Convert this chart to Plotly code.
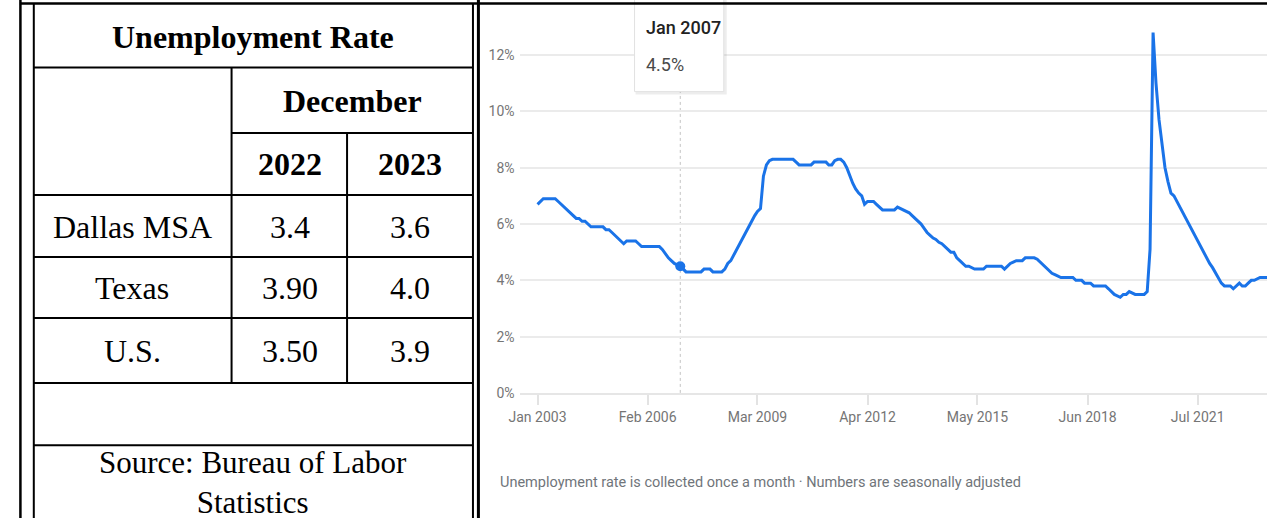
import pandas as pd
import plotly.graph_objects as go

W, H = 1267, 526

# ---------------- data ----------------
table_title = "Unemployment Rate"
table_month = "December"
table_years = ["2022", "2023"]
table_regions = ["Dallas MSA", "Texas", "U.S."]
table_2022 = ["3.4", "3.90", "3.50"]
table_2023 = ["3.6", "4.0", "3.9"]
table_source = "Source: Bureau of Labor<br>Statistics"

# monthly unemployment rate (%), Jan 2003 onwards, one row per year
rate = [
    6.7, 6.8, 6.9, 6.9, 6.9, 6.9, 6.9, 6.8, 6.7, 6.6, 6.5, 6.4,          # 2003
    6.3, 6.2, 6.2, 6.1, 6.1, 6.0, 5.9, 5.9, 5.9, 5.9, 5.9, 5.8,          # 2004
    5.8, 5.7, 5.6, 5.5, 5.4, 5.3, 5.4, 5.4, 5.4, 5.4, 5.3, 5.2,          # 2005
    5.2, 5.2, 5.2, 5.2, 5.2, 5.2, 5.1, 4.95, 4.8, 4.7, 4.6, 4.55,        # 2006
    4.5, 4.4, 4.3, 4.3, 4.3, 4.3, 4.3, 4.3, 4.4, 4.4, 4.4, 4.3,          # 2007
    4.3, 4.3, 4.3, 4.4, 4.6, 4.7, 4.9, 5.1, 5.3, 5.5, 5.7, 5.95,         # 2008
    6.1, 6.3, 6.45, 6.55, 7.7, 8.1, 8.25, 8.3, 8.3, 8.3, 8.3, 8.3,       # 2009
    8.3, 8.3, 8.3, 8.2, 8.1, 8.1, 8.1, 8.1, 8.1, 8.2, 8.2, 8.2,          # 2010
    8.2, 8.2, 8.1, 8.1, 8.25, 8.3, 8.3, 8.2, 8.0, 7.7, 7.45, 7.25,       # 2011
    7.1, 7.0, 6.7, 6.8, 6.8, 6.8, 6.7, 6.6, 6.5, 6.5, 6.5, 6.5,          # 2012
    6.5, 6.6, 6.55, 6.5, 6.45, 6.4, 6.3, 6.2, 6.1, 6.0, 5.85, 5.7,       # 2013
    5.6, 5.5, 5.45, 5.35, 5.3, 5.2, 5.1, 5.0, 5.0, 4.8, 4.7, 4.6,        # 2014
    4.5, 4.5, 4.45, 4.4, 4.4, 4.4, 4.4, 4.5, 4.5, 4.5, 4.5, 4.5,         # 2015
    4.5, 4.4, 4.5, 4.6, 4.65, 4.7, 4.7, 4.7, 4.8, 4.8, 4.8, 4.8,         # 2016
    4.75, 4.65, 4.55, 4.45, 4.35, 4.25, 4.2, 4.15, 4.1, 4.1, 4.1, 4.1,   # 2017
    4.1, 4.0, 4.0, 4.0, 3.9, 3.9, 3.9, 3.8, 3.8, 3.8, 3.8, 3.8,          # 2018
    3.7, 3.6, 3.5, 3.45, 3.4, 3.5, 3.5, 3.6, 3.55, 3.5, 3.5, 3.5,        # 2019
    3.5, 3.6, 5.1, 12.8, 11.0, 9.7, 8.8, 8.0, 7.5, 7.1, 7.0, 6.8,        # 2020
    6.6, 6.4, 6.2, 6.0, 5.8, 5.6, 5.4, 5.2, 5.0, 4.8, 4.6, 4.45,         # 2021
    4.25, 4.05, 3.9, 3.8, 3.8, 3.8, 3.7, 3.8, 3.9, 3.8, 3.8, 3.9,        # 2022
    4.0, 4.0, 4.05, 4.1, 4.1, 4.1, 4.1, 4.1, 4.1, 4.1, 4.1, 4.1,         # 2023
]
months = pd.date_range("2003-01-01", periods=len(rate), freq="MS")

x_tick_dates = ["2003-01-01", "2006-02-01", "2009-03-01", "2012-04-01",
                "2015-05-01", "2018-06-01", "2021-07-01"]
x_tick_labels = ["Jan 2003", "Feb 2006", "Mar 2009", "Apr 2012",
                 "May 2015", "Jun 2018", "Jul 2021"]
y_tick_vals = [0, 2, 4, 6, 8, 10, 12]
y_tick_labels = ["0%", "2%", "4%", "6%", "8%", "10%", "12%"]

tip_date = "2007-01-01"
tip_label = "Jan 2007"
tip_value = 4.5

footnote = "Unemployment rate is collected once a month · Numbers are seasonally adjusted"


# ---------------- helpers (pixel -> paper) ----------------
def px(x):
    return x / W


def py(y):
    return 1 - y / H


BLUE = "#1a73e8"
fig = go.Figure()

fig.add_trace(go.Scatter(
    x=months, y=rate, mode="lines",
    line=dict(color=BLUE, width=3),
    hoverinfo="skip", showlegend=False,
))
fig.add_trace(go.Scatter(
    x=[tip_date], y=[tip_value], mode="markers",
    marker=dict(color=BLUE, size=10),
    hoverinfo="skip", showlegend=False,
))

shapes = []
annotations = []


def hline(y, x0, x1, w=2):
    shapes.append(dict(type="line", xref="paper", yref="paper",
                       x0=px(x0), x1=px(x1), y0=py(y), y1=py(y),
                       line=dict(color="black", width=w), layer="above"))


def vline(x, y0, y1, w=2):
    shapes.append(dict(type="line", xref="paper", yref="paper",
                       x0=px(x), x1=px(x), y0=py(y0), y1=py(y1),
                       line=dict(color="black", width=w), layer="above"))


# tooltip (drawn before border lines)
shapes.append(dict(type="rect", xref="paper", yref="paper",
                   x0=px(630), x1=px(722), y0=py(-5), y1=py(96),
                   fillcolor="rgba(0,0,0,0.07)", line=dict(width=0), layer="above"))
shapes.append(dict(type="rect", xref="paper", yref="paper",
                   x0=px(629), x1=px(719), y0=py(-5), y1=py(93),
                   fillcolor="white", line=dict(color="#e2e2e2", width=1), layer="above"))
shapes.append(dict(type="line", xref="x", yref="paper",
                   x0=tip_date, x1=tip_date, y0=py(399), y1=py(93),
                   line=dict(color="#c4c4c4", width=1, dash="dot"), layer="below"))

# table borders
vline(9.5, 0, 526, 2.5)
vline(23, 4, 526, 2)
vline(466, 4, 526, 2)
vline(471.5, 0, 526, 3)
hline(3.5, 9, 1267, 2.5)
hline(68.5, 23, 466)
hline(135, 222.5, 466)
for yy in [198, 261, 323, 389, 452]:
    hline(yy, 23, 466)
vline(222.5, 68.5, 389)
vline(339, 135, 389)

SERIF = "Liberation Serif, Times New Roman, serif"


def ptext(text, x, y, size=32, bold=False, anchor="center"):
    annotations.append(dict(
        text=f"<b>{text}</b>" if bold else text,
        xref="paper", yref="paper", x=px(x), y=py(y),
        xanchor=anchor, yanchor="middle", showarrow=False,
        font=dict(family=SERIF, size=size, color="black")))


ptext(table_title, 244.5, 38, bold=True)
ptext(table_month, 344, 103, bold=True)
ptext(table_years[0], 281, 167, bold=True)
ptext(table_years[1], 402.5, 167, bold=True)
row_y = [230, 292.5, 356]
for i, r in enumerate(table_regions):
    ptext(r, 122.5, row_y[i])
    ptext(table_2022[i], 281, row_y[i])
    ptext(table_2023[i], 402.5, row_y[i])
annotations.append(dict(
    text=table_source, xref="paper", yref="paper", x=px(244.5), y=py(490),
    xanchor="center", yanchor="middle", showarrow=False,
    font=dict(family=SERIF, size=31, color="black")))

# ---------- chart texts ----------
SANS = "Roboto, Liberation Sans, sans-serif"
annotations.append(dict(
    text=tip_label, xref="paper", yref="paper", x=px(639), y=py(28),
    xanchor="left", yanchor="middle", showarrow=False,
    font=dict(family=SANS, size=18, color="#222222", weight=500)))
annotations.append(dict(
    text=f"{tip_value}%", xref="paper", yref="paper", x=px(639), y=py(65),
    xanchor="left", yanchor="middle", showarrow=False,
    font=dict(family=SANS, size=18, color="#4a4a4a")))
annotations.append(dict(
    text=footnote, xref="paper", yref="paper", x=px(491), y=py(490),
    xanchor="left", yanchor="middle", showarrow=False,
    font=dict(family=SANS, size=14.5, color="#70757a")))

y_top = 399 / ((399 - 56) / 12.0)

fig.update_layout(
    width=W, height=H,
    autosize=False,
    margin=dict(l=0, r=0, t=0, b=0),
    paper_bgcolor="white", plot_bgcolor="white",
    showlegend=False,
    shapes=shapes, annotations=annotations,
    xaxis=dict(
        domain=[px(513), 1.0],
        type="date",
        range=["2002-07-01", "2023-06-11"],
        tickmode="array", tickvals=x_tick_dates, ticktext=x_tick_labels,
        ticks="outside", ticklen=10, tickwidth=1.5, tickcolor="#e3e3e3",
        showgrid=False, zeroline=False,
        showline=True, linecolor="#e6e6e6", linewidth=2,
        tickfont=dict(family=SANS, size=14, color="#757575"),
        fixedrange=True,
    ),
    yaxis=dict(
        domain=[py(399), 1.0],
        range=[0, y_top],
        tickmode="array", tickvals=y_tick_vals, ticktext=y_tick_labels,
        showgrid=True, gridcolor="#ebebeb", gridwidth=2,
        zeroline=False, showline=False, ticks="",
        ticklabelstandoff=4,
        tickfont=dict(family=SANS, size=14, color="#757575"),
        fixedrange=True,
    ),
)

fig.write_html(
    "out.html",
    config={"responsive": False, "displayModeBar": False},
    post_script="document.body.style.margin='0';document.body.style.overflow='hidden';",
)
